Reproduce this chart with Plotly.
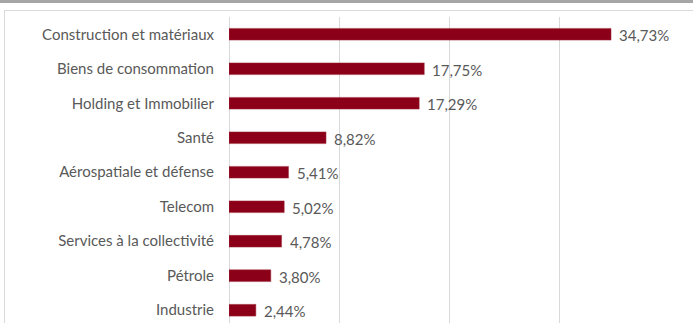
import plotly.graph_objects as go

categories = ["Construction et matériaux", "Biens de consommation", "Holding et Immobilier",
              "Santé", "Aérospatiale et défense", "Telecom", "Services à la collectivité",
              "Pétrole", "Industrie"]
values = [34.73, 17.75, 17.29, 8.82, 5.41, 5.02, 4.78, 3.80, 2.44]
value_labels = ["34,73%", "17,75%", "17,29%", "8,82%", "5,41%", "5,02%", "4,78%", "3,80%", "2,44%"]

W, H = 693, 323
ML, MR, MT, MB = 229, 24, 17, 0
PH = H - MT - MB
PW = W - ML - MR

def py(pix):  # pixel y from top -> paper y
    return 1 - (pix - MT) / PH

def px(pix):
    return (pix - ML) / PW

FONT = "Lato"
TXT = "#595959"
FS = 15

fig = go.Figure(go.Bar(
    x=values, y=categories, orientation="h",
    marker=dict(color="#8B0018", line=dict(color="#A0303F", width=0.5)),
    width=0.34,
    hoverinfo="skip",
))

annotations = []
for c, v, t in zip(categories, values, value_labels):
    annotations.append(dict(x=v, y=c, xref="x", yref="y", text=t, showarrow=False,
                            xanchor="left", xshift=6, yshift=-1,
                            font=dict(family=FONT, size=FS, color=TXT)))

shapes = [
    # top thick gray rule
    dict(type="rect", xref="paper", yref="paper", x0=px(0), x1=px(W), y0=py(0), y1=py(3),
         fillcolor="#A6A6A6", line=dict(width=0), layer="above"),
    # light border box
    dict(type="line", xref="paper", yref="paper", x0=px(4), x1=px(W + 5), y0=py(10.5), y1=py(10.5),
         line=dict(color="#D9D9D9", width=1)),
    dict(type="line", xref="paper", yref="paper", x0=px(4.5), x1=px(4.5), y0=py(10.5), y1=py(H + 5),
         line=dict(color="#D9D9D9", width=1)),
]

fig.update_layout(
    width=W, height=H,
    margin=dict(l=ML, r=MR, t=MT, b=MB, pad=0),
    paper_bgcolor="white", plot_bgcolor="white",
    showlegend=False,
    xaxis=dict(range=[0, 40], dtick=10, showgrid=True, gridcolor="#D9D9D9", gridwidth=1,
               showticklabels=False, zeroline=True, zerolinecolor="#D9D9D9", zerolinewidth=1,
               showline=False, ticks=""),
    yaxis=dict(range=[8.37, -0.5], showgrid=False, ticks="", ticklen=0,
               tickfont=dict(family=FONT, size=FS, color=TXT), ticklabelstandoff=14,
               automargin=False, showline=False),
    annotations=annotations,
    shapes=shapes,
)

fig.write_html("out.html")
